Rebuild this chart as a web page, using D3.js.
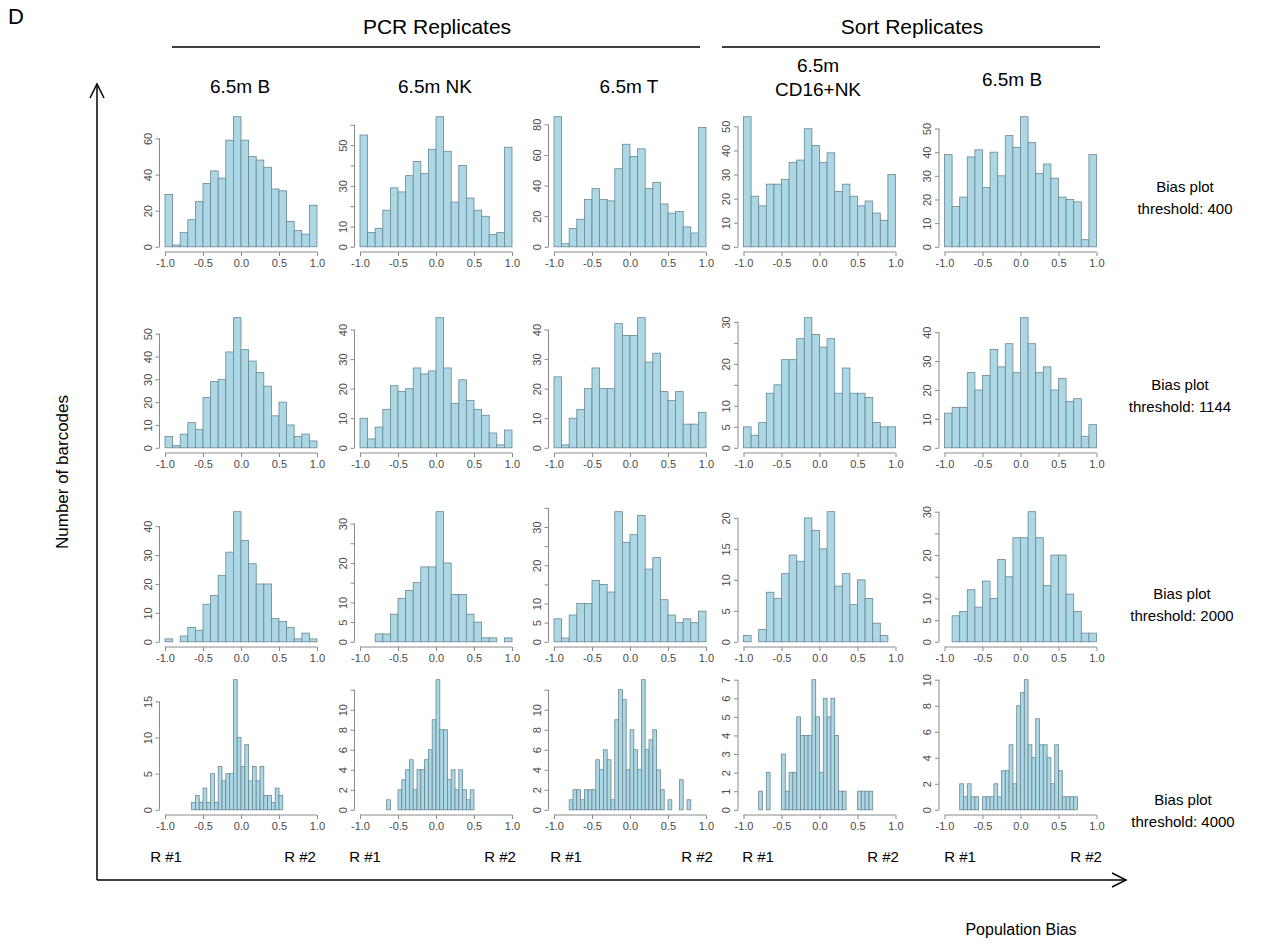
<!DOCTYPE html>
<html>
<head>
<meta charset="utf-8">
<script src="https://cdn.jsdelivr.net/npm/d3@7"></script>
<style>
  body { margin: 0; background: #ffffff; }
  svg { display: block; }
  text { font-family: Arial, "Liberation Sans", Helvetica, sans-serif; }
</style>
</head>
<body>
<svg id="fig" width="1282" height="951"></svg>
<script>
// ---- labels ----
const columnTitles = [["6.5m B"], ["6.5m NK"], ["6.5m T"], ["6.5m", "CD16+NK"], ["6.5m B"]];
const groupTitles = ["PCR Replicates", "Sort Replicates"];
const thresholds = ["400", "1144", "2000", "4000"];
const xTickValues = [-1, -0.5, 0, 0.5, 1];

// ---- barcode counts per bias bin ----
// threshold 400, bins of 0.1 from -1 to 1
const pcrB_400   = [29, 1, 8, 15, 25, 35, 42, 38, 59, 72, 59, 50, 48, 44, 32, 31, 14, 9, 7, 23];
const pcrNK_400  = [55, 7, 9, 18, 29, 27, 35, 42, 36, 48, 64, 47, 22, 40, 24, 18, 15, 6, 7, 49];
const pcrT_400   = [85, 2, 12, 18, 31, 38, 31, 30, 51, 67, 59, 64, 38, 42, 28, 22, 23, 13, 9, 78];
const sortNK_400 = [54, 21, 17, 26, 26, 28, 35, 36, 49, 42, 35, 39, 23, 26, 21, 17, 19, 14, 11, 30];
const sortB_400  = [39, 17, 21, 38, 41, 25, 40, 30, 47, 42, 55, 44, 31, 35, 29, 21, 20, 19, 3, 39];

// threshold 1144, bins of 0.1
const pcrB_1144   = [5, 1, 6, 11, 8, 22, 29, 30, 42, 57, 43, 38, 33, 27, 14, 20, 10, 5, 6, 3];
const pcrNK_1144  = [10, 3, 7, 13, 21, 19, 20, 27, 25, 26, 44, 27, 15, 23, 16, 13, 11, 5, 1, 6];
const pcrT_1144   = [24, 1, 10, 13, 20, 27, 20, 20, 42, 38, 38, 44, 29, 32, 19, 16, 19, 8, 8, 12];
const sortNK_1144 = [5, 3, 6, 13, 15, 21, 21, 26, 31, 27, 24, 26, 13, 19, 13, 13, 12, 6, 5, 5];
const sortB_1144  = [12, 14, 14, 26, 20, 25, 34, 28, 36, 26, 45, 36, 26, 28, 20, 24, 16, 17, 4, 8];

// threshold 2000, bins of 0.1
const pcrB_2000   = [1, 0, 2, 5, 4, 13, 16, 23, 31, 45, 35, 27, 20, 20, 8, 7, 5, 1, 3, 1];
const pcrNK_2000  = [0, 0, 2, 2, 7, 11, 13, 15, 19, 19, 33, 20, 12, 12, 7, 5, 1, 1, 0, 1];
const pcrT_2000   = [6, 1, 7, 10, 10, 16, 15, 13, 34, 26, 28, 33, 19, 22, 11, 7, 5, 6, 5, 8];
const sortNK_2000 = [1, 0, 2, 8, 7, 11, 14, 13, 20, 18, 15, 21, 9, 11, 6, 10, 7, 3, 1, 0];
const sortB_2000  = [0, 6, 7, 12, 8, 14, 10, 19, 15, 24, 24, 30, 24, 13, 20, 20, 11, 7, 2, 2];

// threshold 4000, bins of 0.05 from -1 to 1
const pcrB_4000   = [0, 0, 0, 0, 0, 0, 0, 1, 2, 1, 3, 1, 5, 1, 6, 4, 5, 5, 18, 10,
                     6, 9, 4, 6, 4, 6, 2, 2, 1, 3, 2, 0, 0, 0, 0, 0, 0, 0, 0, 0];
const pcrNK_4000  = [0, 0, 0, 0, 0, 0, 0, 1, 0, 0, 2, 3, 4, 5, 2, 4, 4, 5, 6, 9,
                     13, 8, 8, 3, 4, 2, 4, 2, 1, 2, 0, 0, 0, 0, 0, 0, 0, 0, 0, 0];
const pcrT_4000   = [0, 0, 0, 0, 1, 2, 2, 1, 2, 2, 2, 5, 4, 6, 5, 1, 9, 12, 11, 4,
                     8, 6, 4, 13, 6, 7, 8, 4, 2, 0, 1, 0, 0, 3, 0, 1, 0, 0, 0, 0];
const sortNK_4000 = [0, 0, 0, 0, 1, 0, 2, 0, 0, 0, 3, 1, 2, 2, 5, 4, 4, 4, 7, 5,
                     2, 6, 5, 6, 4, 1, 1, 0, 0, 0, 1, 1, 1, 1, 0, 0, 0, 0, 0, 0];
const sortB_4000  = [0, 0, 0, 0, 2, 1, 2, 1, 1, 0, 1, 1, 1, 2, 1, 3, 3, 5, 2, 8,
                     9, 10, 5, 4, 7, 5, 5, 4, 2, 5, 3, 1, 1, 1, 1, 0, 0, 0, 0, 0];

// ---- y axis ticks (all ticks) and the ones that carry a label ----
const yTicks_400   = [[0, 20, 40, 60], [0, 10, 20, 30, 40, 50, 60], [0, 20, 40, 60, 80], [0, 10, 20, 30, 40, 50], [0, 10, 20, 30, 40, 50]];
const yLabels_400  = [[0, 20, 40, 60], [0, 10, 30, 50], [0, 20, 40, 60, 80], [0, 10, 20, 30, 40, 50], [0, 10, 20, 30, 40, 50]];
const yTicks_1144  = [[0, 10, 20, 30, 40, 50], [0, 10, 20, 30, 40], [0, 10, 20, 30, 40], [0, 5, 10, 15, 20, 25, 30], [0, 10, 20, 30, 40]];
const yLabels_1144 = [[0, 10, 20, 30, 40, 50], [0, 10, 20, 30, 40], [0, 10, 20, 30, 40], [0, 5, 10, 20, 30], [0, 10, 20, 30, 40]];
const yTicks_2000  = [[0, 10, 20, 30, 40], [0, 5, 10, 15, 20, 25, 30], [0, 5, 10, 15, 20, 25, 30, 35], [0, 5, 10, 15, 20], [0, 5, 10, 15, 20, 25, 30]];
const yLabels_2000 = [[0, 10, 20, 30, 40], [0, 5, 10, 20, 30], [0, 5, 10, 20, 30], [0, 5, 10, 15, 20], [0, 5, 10, 20, 30]];
const yTicks_4000  = [[0, 5, 10, 15], [0, 2, 4, 6, 8, 10, 12], [0, 2, 4, 6, 8, 10, 12], [0, 1, 2, 3, 4, 5, 6, 7], [0, 2, 4, 6, 8, 10]];
const yLabels_4000 = [[0, 5, 10, 15], [0, 2, 4, 6, 8, 10], [0, 2, 4, 6, 8, 10], [0, 1, 2, 3, 4, 5, 6, 7], [0, 2, 4, 6, 8, 10]];

// rows of the grid, built from the arrays above
const rows = [
  { binWidth: 0.1,  counts: [pcrB_400, pcrNK_400, pcrT_400, sortNK_400, sortB_400],      ticks: yTicks_400,  labels: yLabels_400 },
  { binWidth: 0.1,  counts: [pcrB_1144, pcrNK_1144, pcrT_1144, sortNK_1144, sortB_1144], ticks: yTicks_1144, labels: yLabels_1144 },
  { binWidth: 0.1,  counts: [pcrB_2000, pcrNK_2000, pcrT_2000, sortNK_2000, sortB_2000], ticks: yTicks_2000, labels: yLabels_2000 },
  { binWidth: 0.05, counts: [pcrB_4000, pcrNK_4000, pcrT_4000, sortNK_4000, sortB_4000], ticks: yTicks_4000, labels: yLabels_4000 }
];

// ---- layout ----
const colLeft = [165, 360, 554, 743.5, 944.5];   // x of bias = -1
const colSpan = 152;                              // width from -1 to 1
const rowBottom = [252, 453, 647, 815];           // bottom of each plot region
const regionH = 140.5;
const titleX = [240, 435, 629, 818, 1012];
const titleBase = [93, 93, 93, 72, 86];
const repLeftX = [166, 365, 566, 758, 960];
const repRightX = [300, 500, 697, 883, 1086];

const svg = d3.select("#fig");

const barFill = "#acd8e6";
const barStroke = "#6a8792";
const axisColor = "#8a8a8a";
const tickText = "#4a4a4a";

rows.forEach((row, r) => {
  row.counts.forEach((counts, c) => {
    const maxCount = d3.max(counts);
    const x = d3.scaleLinear().domain([-1, 1]).range([colLeft[c], colLeft[c] + colSpan]);
    const y = d3.scaleLinear()
      .domain([-0.04 * maxCount, 1.04 * maxCount])
      .range([rowBottom[r], rowBottom[r] - regionH]);

    const g = svg.append("g").attr("class", "panel");

    const bins = counts.map((n, i) => ({
      x0: +(-1 + i * row.binWidth).toFixed(3),
      x1: +(-1 + (i + 1) * row.binWidth).toFixed(3),
      n
    }));

    g.selectAll("rect.bar")
      .data(bins.filter(b => b.n > 0))
      .join("rect")
      .attr("class", "bar")
      .attr("x", d => x(d.x0))
      .attr("width", d => x(d.x1) - x(d.x0))
      .attr("y", d => y(d.n))
      .attr("height", d => y(0) - y(d.n))
      .attr("fill", barFill)
      .attr("stroke", barStroke)
      .attr("stroke-width", 0.8);

    // x axis, drawn at the bottom of the plot region
    const xAxis = d3.axisBottom(x)
      .tickValues(xTickValues)
      .tickSize(4)
      .tickPadding(3)
      .tickFormat(d3.format(".1f"));
    const gx = g.append("g")
      .attr("transform", `translate(0,${rowBottom[r]})`)
      .call(xAxis);
    gx.select(".domain").attr("stroke", axisColor).attr("d", `M${x(-1)},0H${x(1)}`);
    gx.selectAll(".tick line").attr("stroke", axisColor);
    gx.selectAll(".tick text")
      .attr("fill", tickText)
      .style("font-size", "11px")
      .text(d => d3.format(".1f")(d).replace("−", "-"));

    // y axis, rotated labels
    const axisX = x(-1) - 5.5;
    const yAxis = d3.axisLeft(y)
      .tickValues(row.ticks[c])
      .tickSize(4)
      .tickFormat(d => row.labels[c].includes(d) ? d : "");
    const gy = g.append("g")
      .attr("transform", `translate(${axisX},0)`)
      .call(yAxis);
    const tks = row.ticks[c];
    gy.select(".domain").attr("stroke", axisColor)
      .attr("d", `M0,${y(tks[0])}V${y(tks[tks.length - 1])}`);
    gy.selectAll(".tick line").attr("stroke", axisColor);
    gy.selectAll(".tick text")
      .attr("fill", tickText)
      .style("font-size", "11px")
      .attr("x", null).attr("dy", null)
      .attr("text-anchor", "middle")
      .attr("transform", "translate(-8,0) rotate(-90)");
  });
});

// ---- R #1 / R #2 under the bottom row ----
colLeft.forEach((x0, c) => {
  svg.append("text").attr("x", repLeftX[c]).attr("y", 862)
    .attr("text-anchor", "middle").style("font-size", "15px").text("R #1");
  svg.append("text").attr("x", repRightX[c]).attr("y", 862)
    .attr("text-anchor", "middle").style("font-size", "15px").text("R #2");
});

// ---- headers ----
svg.append("text").attr("x", 8).attr("y", 24).style("font-size", "22px").text("D");

const groupSpans = [[172, 700], [722, 1100]];
const groupX = [437, 912];
groupTitles.forEach((t, i) => {
  const [a, b] = groupSpans[i];
  svg.append("text").attr("x", groupX[i]).attr("y", 34)
    .attr("text-anchor", "middle").style("font-size", "21px").text(t);
  svg.append("line").attr("x1", a).attr("x2", b).attr("y1", 47).attr("y2", 47)
    .attr("stroke", "#000").attr("stroke-width", 1.4);
});

columnTitles.forEach((lines, c) => {
  lines.forEach((line, k) => {
    svg.append("text")
      .attr("x", titleX[c])
      .attr("y", titleBase[c] + k * 24)
      .attr("text-anchor", "middle")
      .style("font-size", "19px")
      .text(line);
  });
});

// ---- threshold notes on the right ----
const noteX = [1185, 1180, 1182, 1183];
const noteY = [192, 390, 599, 805];
thresholds.forEach((t, r) => {
  svg.append("text").attr("x", noteX[r]).attr("y", noteY[r])
    .attr("text-anchor", "middle").style("font-size", "15px").text("Bias plot");
  svg.append("text").attr("x", noteX[r]).attr("y", noteY[r] + 22)
    .attr("text-anchor", "middle").style("font-size", "15px").text("threshold: " + t);
});

// ---- outer axes with open arrowheads ----
const arrow = svg.append("g").attr("fill", "none").attr("stroke", "#000").attr("stroke-width", 1.5);
arrow.append("path").attr("d", "M97,880V84");
arrow.append("path").attr("d", "M90,98L97,84L104,98");
arrow.append("path").attr("d", "M97,880H1126");
arrow.append("path").attr("d", "M1112,873L1126,880L1112,887");

svg.append("text")
  .attr("transform", "translate(68,472) rotate(-90)")
  .attr("text-anchor", "middle").style("font-size", "17px").text("Number of barcodes");
svg.append("text").attr("x", 1021).attr("y", 935)
  .attr("text-anchor", "middle").style("font-size", "16px").text("Population Bias");
</script>
</body>
</html>
